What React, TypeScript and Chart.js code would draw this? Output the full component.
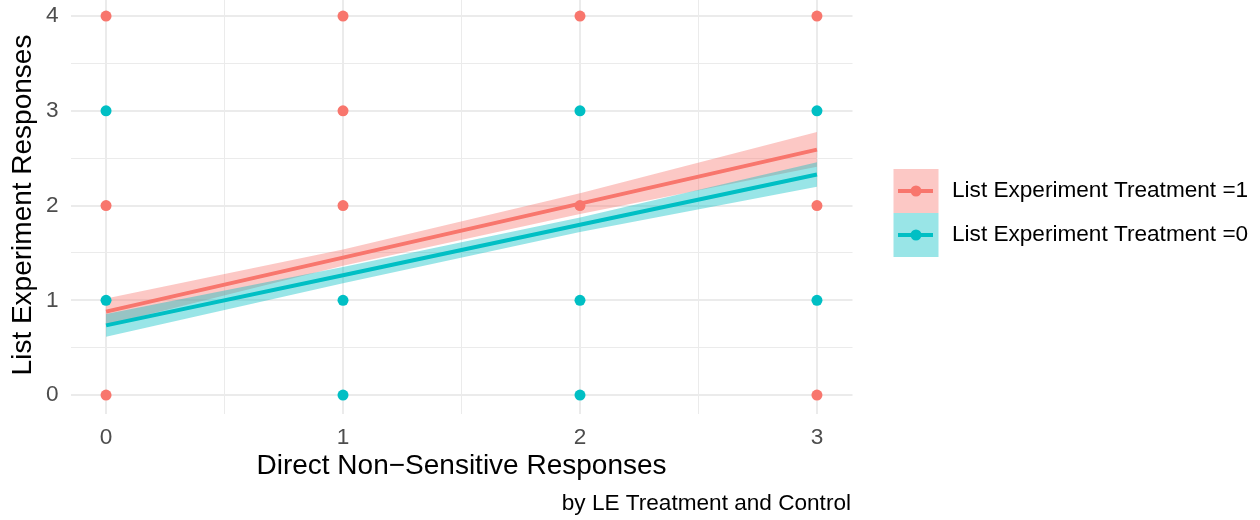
import React, { useEffect, useRef } from "react";
import { Chart, registerables } from "chart.js";

Chart.register(...registerables);

// ---- data ----
const xTickValues = [0, 1, 2, 3];
const xMinorBreaks = [0.5, 1.5, 2.5];
const yTickValues = [0, 1, 2, 3, 4];
const yMinorBreaks = [0.5, 1.5, 2.5, 3.5];

const seriesNames = ["List Experiment Treatment =1", "List Experiment Treatment =0"];

// visible points, treatment = 1
const treatX = [0, 0, 0, 1, 1, 1, 2, 2, 3, 3, 3];
const treatY = [4, 2, 0, 4, 3, 2, 4, 2, 4, 2, 0];
// visible points, treatment = 0
const controlX = [0, 0, 1, 1, 2, 2, 2, 3, 3];
const controlY = [3, 1, 1, 0, 3, 1, 0, 3, 1];

// linear smooth with confidence band
const smoothX = [0, 1, 2, 3];
const treatFit = [0.88, 1.45, 2.02, 2.59];
const treatLo = [0.74, 1.365, 1.91, 2.41];
const treatHi = [1.02, 1.535, 2.13, 2.775];
const controlFit = [0.735, 1.265, 1.797, 2.327];
const controlLo = [0.615, 1.18, 1.72, 2.198];
const controlHi = [0.855, 1.35, 1.875, 2.457];

const X_TITLE = "Direct Non\u2212Sensitive Responses";
const Y_TITLE = "List Experiment Responses";
const CAPTION = "by LE Treatment and Control";

// ---- styles ----
const FONT = '"Liberation Sans", Arial, Helvetica, sans-serif';
const RED = "#F8766D";
const TEAL = "#00BFC4";
const RED_FILL = "rgba(248,118,109,0.4)";
const TEAL_FILL = "rgba(0,191,196,0.4)";
const GRID = "#EBEBEB";
const SMALL = 22.6;
const BIG = 28;

const zip = (xs: number[], ys: number[]) => xs.map((x, i) => ({ x, y: ys[i] }));

const decorPlugin = {
  id: "decor",
  afterDraw(chart: any) {
    const ctx = chart.ctx as CanvasRenderingContext2D;
    const ca = chart.chartArea;
    ctx.save();
    ctx.fillStyle = "#000";
    ctx.textBaseline = "middle";
    // x title
    ctx.font = `${BIG}px ${FONT}`;
    ctx.textAlign = "center";
    ctx.fillText(X_TITLE, (ca.left + ca.right) / 2, 466);
    // y title
    ctx.save();
    ctx.translate(23, 205);
    ctx.rotate(-Math.PI / 2);
    ctx.fillText(Y_TITLE, 0, 0);
    ctx.restore();
    // caption
    ctx.font = `${SMALL}px ${FONT}`;
    ctx.textAlign = "right";
    ctx.fillText(CAPTION, 851, 504);
    // legend
    const keys = [
      { fill: RED_FILL, color: RED, top: 169 },
      { fill: TEAL_FILL, color: TEAL, top: 213 },
    ];
    keys.forEach((k, i) => {
      ctx.fillStyle = k.fill;
      ctx.fillRect(893.5, k.top, 45, 44);
      const cy = k.top + 22;
      ctx.strokeStyle = k.color;
      ctx.lineWidth = 4;
      ctx.beginPath();
      ctx.moveTo(898, cy);
      ctx.lineTo(933, cy);
      ctx.stroke();
      ctx.fillStyle = k.color;
      ctx.beginPath();
      ctx.arc(916, cy, 5.5, 0, Math.PI * 2);
      ctx.fill();
      ctx.fillStyle = "#000";
      ctx.font = `${SMALL}px ${FONT}`;
      ctx.textAlign = "left";
      ctx.fillText(seriesNames[i], 952, cy);
    });
    ctx.restore();
  },
};

const gridWidth = (c: any) => (c.tick && Number.isInteger(c.tick.value) ? 2 : 1);

export default function App() {
  const ref = useRef<HTMLCanvasElement>(null);
  useEffect(() => {
    if (!ref.current) return;
    const ribbon = (hi: number[], lo: number[], fill: string, order: number) => [
      {
        type: "line",
        data: zip(smoothX, hi),
        borderWidth: 0,
        pointRadius: 0,
        backgroundColor: fill,
        fill: "+1",
        showLine: true,
        order,
      },
      {
        type: "line",
        data: zip(smoothX, lo),
        borderWidth: 0,
        pointRadius: 0,
        fill: false,
        showLine: true,
        order,
      },
    ];
    const chart = new Chart(ref.current, {
      type: "scatter",
      data: {
        datasets: [
          ...ribbon(treatHi, treatLo, RED_FILL, 6),
          {
            type: "line",
            data: zip(smoothX, treatFit),
            borderColor: RED,
            borderWidth: 4,
            pointRadius: 0,
            fill: false,
            showLine: true,
            order: 5,
          },
          ...ribbon(controlHi, controlLo, TEAL_FILL, 4),
          {
            type: "line",
            data: zip(smoothX, controlFit),
            borderColor: TEAL,
            borderWidth: 4,
            pointRadius: 0,
            fill: false,
            showLine: true,
            order: 3,
          },
          {
            data: zip(controlX, controlY),
            backgroundColor: TEAL,
            borderWidth: 0,
            pointRadius: 5.5,
            order: 2,
          },
          {
            data: zip(treatX, treatY),
            backgroundColor: RED,
            borderWidth: 0,
            pointRadius: 5.5,
            order: 1,
          },
        ] as any,
      },
      options: {
        animation: false,
        responsive: false,
        maintainAspectRatio: false,
        events: [],
        layout: { autoPadding: false, padding: { left: 0, top: 0, right: 407.5, bottom: 0 } },
        plugins: { legend: { display: false }, tooltip: { enabled: false } },
        scales: {
          x: {
            type: "linear",
            min: -0.15,
            max: 3.15,
            border: { display: false },
            grid: { color: GRID, lineWidth: gridWidth, drawTicks: false },
            afterBuildTicks: (s: any) => {
              s.ticks = [...xTickValues, ...xMinorBreaks].sort((a, b) => a - b).map((v) => ({ value: v }));
            },
            afterFit: (s: any) => {
              s.height = 106;
              s.paddingLeft = 0;
              s.paddingRight = 0;
            },
            ticks: {
              autoSkip: false,
              maxRotation: 0,
              padding: 10,
              color: "#4D4D4D",
              font: { family: FONT, size: SMALL },
              callback: (v: any) => (xTickValues.includes(Number(v)) ? String(v) : ""),
            },
          },
          y: {
            type: "linear",
            min: -0.2,
            max: 4.169,
            border: { display: false },
            grid: { color: GRID, lineWidth: gridWidth, drawTicks: false },
            afterBuildTicks: (s: any) => {
              s.ticks = [...yTickValues, ...yMinorBreaks].sort((a, b) => a - b).map((v) => ({ value: v }));
            },
            afterFit: (s: any) => {
              s.width = 70.5;
              s.paddingTop = 0;
              s.paddingBottom = 0;
            },
            ticks: {
              autoSkip: false,
              padding: 12,
              color: "#4D4D4D",
              font: { family: FONT, size: SMALL },
              callback: (v: any) => (yTickValues.includes(Number(v)) ? String(v) : ""),
            },
          },
        },
      } as any,
      plugins: [decorPlugin],
    });
    return () => chart.destroy();
  }, []);
  return (
    <div style={{ position: "absolute", left: 0, top: 0, width: 1260, height: 520, background: "#fff" }}>
      <canvas ref={ref} width={1260} height={520} style={{ display: "block" }} />
    </div>
  );
}
